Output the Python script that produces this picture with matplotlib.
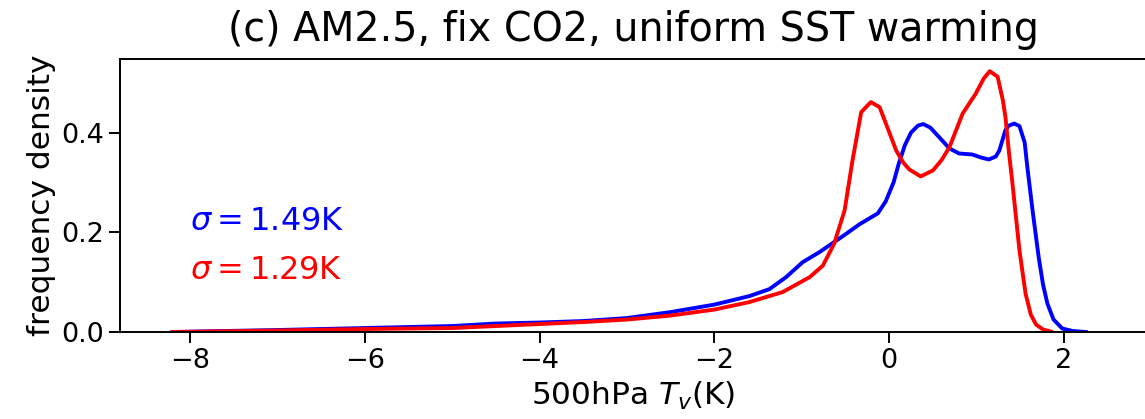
import numpy as np
import matplotlib
matplotlib.use('Agg')
import matplotlib.pyplot as plt

# 500hPa Tv distribution, control (blue) vs uniform SST warming (red)
tv_blue = [-8.2, -7.0, -6.0, -5.0, -4.5, -4.0, -3.5, -3.0, -2.5, -2.0, -1.6, -1.37, -1.18,
           -0.99, -0.80, -0.65, -0.5, -0.34, -0.13, -0.04, 0.05, 0.11, 0.18, 0.25, 0.33,
           0.39, 0.47, 0.57, 0.69, 0.80, 0.95, 1.05, 1.14, 1.22, 1.26, 1.33, 1.37, 1.43,
           1.49, 1.55, 1.58, 1.64, 1.71, 1.76, 1.81, 1.88, 1.98, 2.1, 2.25]
pdf_blue = [0.0, 0.004, 0.008, 0.012, 0.017, 0.019, 0.022, 0.028, 0.040, 0.055, 0.072, 0.086,
            0.110, 0.140, 0.160, 0.178, 0.196, 0.216, 0.238, 0.262, 0.300, 0.338, 0.375,
            0.400, 0.414, 0.417, 0.410, 0.391, 0.368, 0.358, 0.356, 0.350, 0.346, 0.352,
            0.364, 0.405, 0.414, 0.418, 0.413, 0.380, 0.331, 0.244, 0.150, 0.095, 0.057,
            0.025, 0.007, 0.002, 0.0]

tv_red = [-8.2, -7.0, -6.0, -5.0, -4.5, -4.0, -3.5, -3.0, -2.5, -2.0, -1.6, -1.22, -0.91,
          -0.76, -0.63, -0.51, -0.42, -0.32, -0.21, -0.11, -0.02, 0.08, 0.16, 0.23, 0.36,
          0.50, 0.60, 0.69, 0.84, 0.99, 1.08, 1.15, 1.24, 1.30, 1.33, 1.37, 1.41, 1.49,
          1.56, 1.62, 1.68, 1.76, 1.85]
pdf_red = [0.0, 0.003, 0.006, 0.008, 0.012, 0.016, 0.020, 0.025, 0.033, 0.045, 0.060, 0.080,
           0.110, 0.133, 0.177, 0.244, 0.344, 0.441, 0.461, 0.451, 0.410, 0.364, 0.340,
           0.326, 0.312, 0.324, 0.345, 0.371, 0.438, 0.478, 0.508, 0.523, 0.512, 0.465,
           0.431, 0.360, 0.298, 0.164, 0.077, 0.035, 0.015, 0.005, 0.001]

sigma_blue = 1.49
sigma_red = 1.29

fig = plt.figure(figsize=(11.45, 4.19), dpi=100)
ax = fig.add_axes([0.1048, 0.2076, 0.897, 0.651])

ax.plot(tv_blue, pdf_blue, color='b', lw=2.8)
ax.plot(tv_red, pdf_red, color='r', lw=2.8)

ax.text(-8.0, 0.222, r'$\sigma=$' + '%.2fK' % sigma_blue, color='b', fontsize=23, va='center')
ax.text(-8.0, 0.124, r'$\sigma=$' + '%.2fK' % sigma_red, color='r', fontsize=23, va='center')

ax.set_xlim(-8.8, 2.95)
ax.set_ylim(0, 0.547)
ax.set_xticks([-8, -6, -4, -2, 0, 2])
ax.set_yticks([0.0, 0.2, 0.4])
ax.tick_params(labelsize=19.5, length=8, width=1.4)
for s in ax.spines.values():
	s.set_linewidth(1.4)

ax.set_xlabel(r'500hPa $T_v$(K)', fontsize=22.5)
ax.set_ylabel('frequency density', fontsize=22.5)
ax.set_title('(c) AM2.5, fix CO2, uniform SST warming', fontsize=28.5, pad=13)

plt.savefig('out.png', dpi=100)
